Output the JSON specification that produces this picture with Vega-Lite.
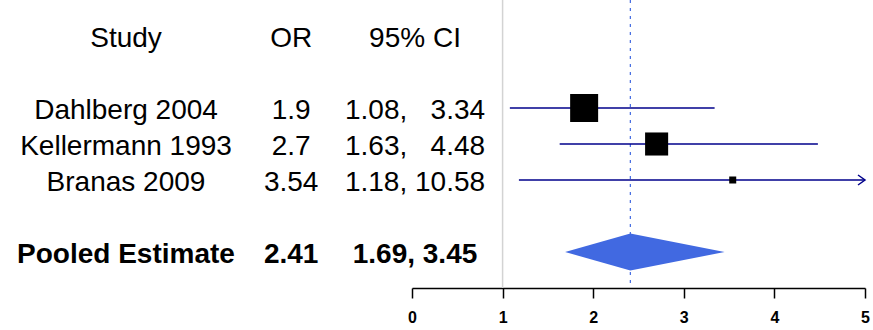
{
  "$schema": "https://vega.github.io/schema/vega-lite/v6.json",
  "width": 873,
  "height": 288,
  "padding": {"left": 0, "right": 0, "top": 0, "bottom": 42},
  "autosize": {"type": "none"},
  "background": "white",
  "config": {
    "view": {"stroke": null},
    "font": "Liberation Sans",
    "axisX": {
      "domainColor": "black", "domainWidth": 1.5,
      "tickColor": "black", "tickWidth": 1.5, "tickSize": 10,
      "labelFont": "Liberation Sans", "labelFontSize": 16, "labelFontWeight": "bold",
      "labelColor": "black", "labelPadding": 11, "labelFlush": false, "grid": false
    }
  },
  "datasets": {
    "rows": [
      {"study": "Dahlberg 2004", "or": 1.9, "lower": 1.08, "upper": 3.34, "ci": "1.08,\u00a0\u00a0\u00a03.34", "weight": 56, "pooled": false},
      {"study": "Kellermann 1993", "or": 2.7, "lower": 1.63, "upper": 4.48, "ci": "1.63,\u00a0\u00a0\u00a04.48", "weight": 38, "pooled": false},
      {"study": "Branas 2009", "or": 3.54, "lower": 1.18, "upper": 10.58, "ci": "1.18, 10.58", "weight": 3.5, "pooled": false},
      {"study": "Pooled Estimate", "or": 2.41, "lower": 1.69, "upper": 3.45, "ci": "1.69, 3.45", "pooled": true}
    ],
    "header": [
      {"col": "Study", "label": "Study"},
      {"col": "OR", "label": "OR"},
      {"col": "CI", "label": "95% CI"}
    ],
    "diamondShape": [
      {"vertex": "lower", "h": 0, "hn": 0},
      {"vertex": "or", "h": 1, "hn": -1},
      {"vertex": "upper", "h": 0, "hn": 0}
    ]
  },
  "layer": [
    {
      "layer": [
        {
          "data": {"name": "header"},
          "mark": {"type": "text", "fontSize": 28, "dy": 3, "color": "black"},
          "encoding": {
            "x": {"field": "col", "type": "nominal", "scale": {"type": "point", "domain": ["Study", "g1", "g2", "g3", "OR", "g4", "g5", "CI"], "range": [126, 415], "padding": 0}, "axis": null},
            "y": {"datum": "header", "type": "nominal", "scale": {"type": "point", "domain": ["header", "g1", "Dahlberg 2004", "Kellermann 1993", "Branas 2009", "g2", "Pooled Estimate"], "padding": 1}, "axis": null},
            "text": {"field": "label"}
          }
        },
        {
          "data": {"name": "rows"},
          "transform": [{"filter": "!datum.pooled"}],
          "mark": {"type": "text", "fontSize": 28, "dy": 3, "color": "black"},
          "encoding": {
            "x": {"datum": "Study", "type": "nominal", "axis": null},
            "y": {"field": "study", "type": "nominal", "axis": null},
            "text": {"field": "study"}
          }
        },
        {
          "data": {"name": "rows"},
          "transform": [{"filter": "!datum.pooled"}],
          "mark": {"type": "text", "fontSize": 28, "dy": 3, "color": "black"},
          "encoding": {
            "x": {"datum": "OR", "type": "nominal", "axis": null},
            "y": {"field": "study", "type": "nominal", "axis": null},
            "text": {"field": "or", "type": "quantitative", "format": ".3~g"}
          }
        },
        {
          "data": {"name": "rows"},
          "transform": [{"filter": "!datum.pooled"}],
          "mark": {"type": "text", "fontSize": 28, "dy": 3, "color": "black"},
          "encoding": {
            "x": {"datum": "CI", "type": "nominal", "axis": null},
            "y": {"field": "study", "type": "nominal", "axis": null},
            "text": {"field": "ci"}
          }
        },
        {
          "data": {"name": "rows"},
          "transform": [{"filter": "datum.pooled"}],
          "mark": {"type": "text", "fontSize": 28, "fontWeight": "bold", "dy": 3, "color": "black"},
          "encoding": {
            "x": {"datum": "Study", "type": "nominal", "axis": null},
            "y": {"field": "study", "type": "nominal", "axis": null},
            "text": {"field": "study"}
          }
        },
        {
          "data": {"name": "rows"},
          "transform": [{"filter": "datum.pooled"}],
          "mark": {"type": "text", "fontSize": 28, "fontWeight": "bold", "dy": 3, "color": "black"},
          "encoding": {
            "x": {"datum": "OR", "type": "nominal", "axis": null},
            "y": {"field": "study", "type": "nominal", "axis": null},
            "text": {"field": "or", "type": "quantitative", "format": ".3~g"}
          }
        },
        {
          "data": {"name": "rows"},
          "transform": [{"filter": "datum.pooled"}],
          "mark": {"type": "text", "fontSize": 28, "fontWeight": "bold", "dy": 3, "color": "black"},
          "encoding": {
            "x": {"datum": "CI", "type": "nominal", "axis": null},
            "y": {"field": "study", "type": "nominal", "axis": null},
            "text": {"field": "ci"}
          }
        }
      ]
    },
    {
      "layer": [
        {
          "data": {"name": "rows"},
          "layer": [
            {
              "transform": [{"filter": "datum.pooled"}],
              "mark": {"type": "rule", "color": "#D3D3D3", "strokeWidth": 1.5},
              "encoding": {
                "x": {"datum": 1, "type": "quantitative", "scale": {"type": "linear", "domain": [0, 5], "range": [412, 865], "clamp": true, "nice": false, "zero": false}, "axis": {"values": [0, 1, 2, 3, 4, 5], "format": "d", "title": null}}
              }
            },
            {
              "transform": [{"filter": "datum.pooled"}],
              "mark": {"type": "rule", "color": "#4169E1", "strokeWidth": 1.2, "strokeDash": [3, 5]},
              "encoding": {
                "x": {"field": "or", "type": "quantitative", "axis": {"values": [0, 1, 2, 3, 4, 5], "format": "d", "title": null}}
              }
            },
            {
              "transform": [{"filter": "!datum.pooled"}],
              "mark": {"type": "rule", "color": "#00008B", "strokeWidth": 1.5},
              "encoding": {
                "x": {"field": "lower", "type": "quantitative", "axis": {"values": [0, 1, 2, 3, 4, 5], "format": "d", "title": null}},
                "x2": {"field": "upper"},
                "y": {"field": "study", "type": "nominal", "scale": {"type": "point", "domain": ["header", "g1", "Dahlberg 2004", "Kellermann 1993", "Branas 2009", "g2", "Pooled Estimate"], "padding": 1}, "axis": null}
              }
            },
            {
              "transform": [{"filter": "!datum.pooled"}],
              "mark": {"type": "point", "shape": "square", "filled": true, "color": "black", "opacity": 1},
              "encoding": {
                "x": {"field": "or", "type": "quantitative", "axis": {"values": [0, 1, 2, 3, 4, 5], "format": "d", "title": null}},
                "y": {"field": "study", "type": "nominal", "axis": null},
                "size": {"field": "weight", "type": "quantitative", "scale": {"type": "linear", "domain": [0, 56], "range": [0, 784], "zero": true}, "legend": null}
              }
            },
            {
              "transform": [{"filter": "datum.upper > 5"}],
              "mark": {"type": "point", "shape": "M-1.4,-1L0,0L-1.4,1", "filled": false, "color": "#00008B", "strokeWidth": 1.5, "size": 100, "opacity": 1},
              "encoding": {
                "x": {"field": "upper", "type": "quantitative", "axis": {"values": [0, 1, 2, 3, 4, 5], "format": "d", "title": null}},
                "y": {"field": "study", "type": "nominal", "axis": null}
              }
            }
          ]
        },
        {
          "data": {"name": "rows"},
          "transform": [
            {"filter": "datum.pooled"},
            {"fold": ["lower", "or", "upper"], "as": ["vertex", "value"]},
            {"lookup": "vertex", "from": {"data": {"name": "diamondShape"}, "key": "vertex", "fields": ["h", "hn"]}}
          ],
          "mark": {"type": "area", "color": "#4169E1", "opacity": 1},
          "encoding": {
            "x": {"field": "value", "type": "quantitative", "axis": {"values": [0, 1, 2, 3, 4, 5], "format": "d", "title": null}},
            "y": {"field": "h", "type": "quantitative", "scale": {"domain": [-1, 1], "range": [270.5, 233.5], "nice": false}, "axis": null},
            "y2": {"field": "hn"}
          }
        }
      ],
      "resolve": {"scale": {"y": "independent"}}
    }
  ],
  "resolve": {"scale": {"x": "independent", "y": "independent"}}
}
